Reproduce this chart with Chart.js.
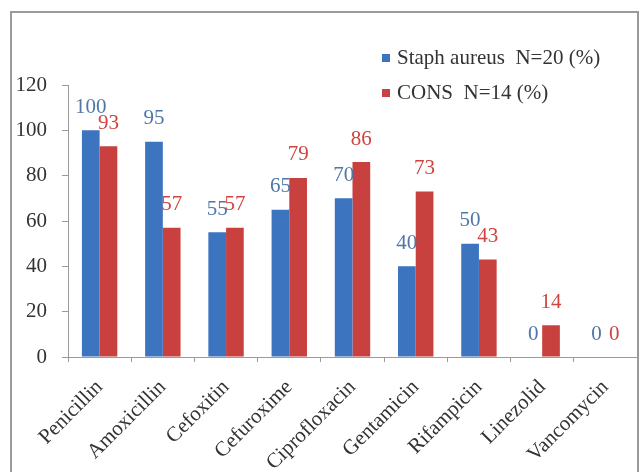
<!DOCTYPE html>
<html>
<head>
<meta charset="utf-8">
<script src="https://cdn.jsdelivr.net/npm/chart.js@4/dist/chart.umd.min.js"></script>
<style>
  html, body { margin: 0; padding: 0; background: #fff; }
  #wrap { width: 641px; height: 472px; position: relative; }
</style>
</head>
<body>
<div id="wrap"><canvas id="c" width="641" height="472"></canvas></div>
<script>
// Antibiotic resistance by organism (%)
const antibiotics = ['Penicillin', 'Amoxicillin', 'Cefoxitin', 'Cefuroxime', 'Ciprofloxacin',
                     'Gentamicin', 'Rifampicin', 'Linezolid', 'Vancomycin'];
const staphAureus = [100, 95, 55, 65, 70, 40, 50, 0, 0];
const cons        = [93, 57, 57, 79, 86, 73, 43, 14, 0];
const seriesNames = ['Staph aureus  N=20 (%)', 'CONS  N=14 (%)'];
const yTicks      = [0, 20, 40, 60, 80, 100, 120];

const FONT = '"Liberation Serif", "Times New Roman", serif';
const BLUE = '#3d74c0';
const RED  = '#c8413e';
const TEXT = '#333333';

// Outer frame around the chart
const framePlugin = {
  id: 'frame',
  beforeDraw(chart) {
    const ctx = chart.ctx;
    ctx.save();
    ctx.fillStyle = '#fff';
    ctx.fillRect(0, 0, chart.width, chart.height);
    ctx.strokeStyle = '#9a9a9a';
    ctx.lineWidth = 2;
    ctx.strokeRect(11, 12, 627, 480);
    ctx.restore();
  }
};

// Value labels above each bar
const valueLabels = {
  id: 'valueLabels',
  afterDatasetsDraw(chart) {
    const ctx = chart.ctx;
    ctx.save();
    ctx.font = '21px ' + FONT;
    ctx.textAlign = 'center';
    ctx.textBaseline = 'middle';
    chart.data.datasets.forEach((ds, i) => {
      const meta = chart.getDatasetMeta(i);
      ctx.fillStyle = ds.labelColor;
      meta.data.forEach((bar, j) => {
        ctx.fillText(String(ds.data[j]), bar.x, bar.y - 23);
      });
    });
    ctx.restore();
  }
};

// Legend box in the upper right
const legendBox = {
  id: 'legendBox',
  afterDraw(chart) {
    const ctx = chart.ctx;
    ctx.save();
    ctx.font = '21px ' + FONT;
    ctx.textAlign = 'left';
    ctx.textBaseline = 'middle';
    const rows = [58, 93];
    chart.data.datasets.forEach((ds, i) => {
      const y = rows[i];
      ctx.fillStyle = ds.backgroundColor;
      ctx.fillRect(382, y - 4, 8, 8);
      ctx.fillStyle = TEXT;
      ctx.fillText(ds.label, 397, y);
    });
    ctx.restore();
  }
};

new Chart(document.getElementById('c'), {
  type: 'bar',
  data: {
    labels: antibiotics,
    datasets: [
      { label: seriesNames[0], data: staphAureus, backgroundColor: BLUE, labelColor: '#4f76a8',
        categoryPercentage: 0.56, barPercentage: 1.0 },
      { label: seriesNames[1], data: cons, backgroundColor: RED, labelColor: '#d04440',
        categoryPercentage: 0.56, barPercentage: 1.0 }
    ]
  },
  options: {
    responsive: false,
    animation: false,
    layout: { padding: { top: 85, right: 4, left: 0, bottom: 0 } },
    plugins: { legend: { display: false }, tooltip: { enabled: false } },
    scales: {
      x: {
        grid: { display: true, drawOnChartArea: false, tickLength: 5, color: '#9a9a9a', offset: true },
        border: { display: true, color: '#9a9a9a', width: 1 },
        ticks: { color: TEXT, font: { family: FONT, size: 21 }, minRotation: 45, maxRotation: 45, padding: 13, autoSkip: false },
        afterFit(scale) { scale.height = 115; }
      },
      y: {
        min: 0, max: 120,
        afterBuildTicks(scale) { scale.ticks = yTicks.map(v => ({ value: v })); },
        grid: { display: true, drawOnChartArea: false, tickLength: 6, color: '#9a9a9a' },
        border: { display: true, color: '#9a9a9a', width: 1 },
        ticks: { color: TEXT, font: { family: FONT, size: 21 }, padding: 15 },
        afterFit(scale) { scale.width = 68; }
      }
    }
  },
  plugins: [framePlugin, valueLabels, legendBox]
});
</script>
</body>
</html>
